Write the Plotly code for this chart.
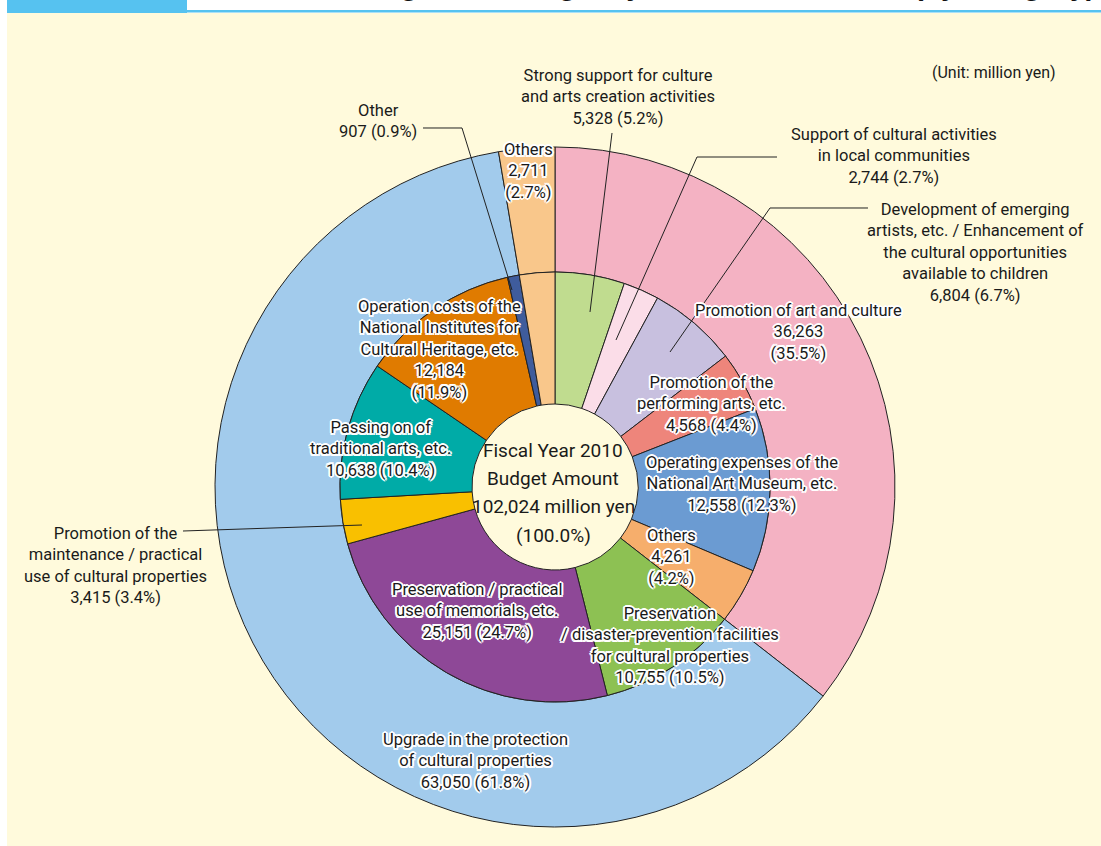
import plotly.graph_objects as go

W, H = 1101, 846

# ---- data ----
outer_labels = ["Promotion of art and culture", "Upgrade in the protection of cultural properties", "Others"]
outer_values = [36263, 63050, 2711]
outer_pcts = ["35.5%", "61.8%", "2.7%"]
outer_colors = ["#F4B2C3", "#A2CBEC", "#F9C78B"]

inner_labels = [
    "Strong support for culture and arts creation activities",
    "Support of cultural activities in local communities",
    "Development of emerging artists, etc. / Enhancement of the cultural opportunities available to children",
    "Promotion of the performing arts, etc.",
    "Operating expenses of the National Art Museum, etc.",
    "Others (art and culture)",
    "Preservation / disaster-prevention facilities for cultural properties",
    "Preservation / practical use of memorials, etc.",
    "Promotion of the maintenance / practical use of cultural properties",
    "Passing on of traditional arts, etc.",
    "Operation costs of the National Institutes for Cultural Heritage, etc.",
    "Other",
    "Others",
]
inner_values = [5328, 2744, 6804, 4568, 12558, 4261, 10755, 25151, 3415, 10638, 12184, 907, 2711]
inner_pcts = ["5.2%", "2.7%", "6.7%", "4.4%", "12.3%", "4.2%", "10.5%", "24.7%", "3.4%",
              "10.4%", "11.9%", "0.9%", "2.7%"]
inner_colors = ["#C0DC8F", "#FBDDE8", "#C8C0DF", "#EE857B", "#6B9BD2", "#F6AE6C",
                "#8DC153", "#8E4897", "#F9C000", "#00ABA7", "#E07B00", "#3F5C9C", "#F9C78B"]

total_value = 102024
total_pct = "100.0%"

# ---- geometry (pixels) ----
CX, CY = 555, 487
R_OUT, R_IN, R_HOLE = 340, 215, 83


def fx(x):
    return x / W


def fy(y):
    return 1 - y / H


def dom(r):
    return dict(x=[fx(CX - r), fx(CX + r)], y=[fy(CY + r), fy(CY - r)])


FONT = "Roboto, Arial, sans-serif"
LINE = dict(color="#222222", width=1)

fig = go.Figure()
fig.add_trace(go.Pie(
    labels=outer_labels, values=outer_values, sort=False, direction="clockwise",
    rotation=0, hole=R_IN / R_OUT, domain=dom(R_OUT), textinfo="none",
    marker=dict(colors=outer_colors, line=LINE), showlegend=False, hoverinfo="label+value",
))
fig.add_trace(go.Pie(
    labels=inner_labels, values=inner_values, sort=False, direction="clockwise",
    rotation=0, hole=R_HOLE / R_IN, domain=dom(R_IN), textinfo="none",
    marker=dict(colors=inner_colors, line=LINE), showlegend=False, hoverinfo="label+value",
))

halo = ", ".join(f"{a}px {b}px 0 #fff" for a, b in
                 [(-1.5, -1.5), (1.5, -1.5), (-1.5, 1.5), (1.5, 1.5), (0, 2), (0, -2), (2, 0), (-2, 0)])


def fmt(v):
    return f"{v:,}"


annotations = []


def label(text, x, y, size=16.5, shadow=False, color="#1a1a1a", xanchor="center", align="center"):
    f = dict(family=FONT, size=size, color=color)
    if shadow:
        f["shadow"] = halo
    annotations.append(dict(text=text, x=fx(x), y=fy(y), xref="paper", yref="paper",
                            xanchor=xanchor, yanchor="middle", align=align,
                            showarrow=False, font=f))


v, p = inner_values, inner_pcts
o, op = outer_values, outer_pcts
# outside labels
label(f"Strong support for culture<br>and arts creation activities<br>{fmt(v[0])} ({p[0]})", 618, 97, 16.5)
label(f"Support of cultural activities<br>in local communities<br>{fmt(v[1])} ({p[1]})", 894, 156, 16.5)
label(f"Development of emerging<br>artists, etc. / Enhancement of<br>the cultural opportunities<br>available to children<br>{fmt(v[2])} ({p[2]})", 975, 252, 16.5)
label(f"Other<br>{fmt(v[11])} ({p[11]})", 378, 121, 16.5)
label(f"Promotion of the<br>maintenance / practical<br>use of cultural properties<br>{fmt(v[8])} ({p[8]})", 115, 565, 16.5)
label("(Unit: million yen)", 1058, 73, 16, xanchor="right")

# inside labels (white halo)
label(f"Promotion of art and culture<br>{fmt(o[0])}<br>({op[0]})", 799, 332, shadow=True)
label(f"Promotion of the<br>performing arts, etc.<br>{fmt(v[3])} ({p[3]})", 711, 404, shadow=True)
label(f"Operating expenses of the<br>National Art Museum, etc.<br>{fmt(v[4])} ({p[4]})", 742, 484, shadow=True)
label(f"Others<br>{fmt(v[5])}<br>({p[5]})", 671, 557, shadow=True)
label(f"Preservation<br>/ disaster-prevention facilities<br>for cultural properties<br>{fmt(v[6])} ({p[6]})", 670, 645, shadow=True)
label(f"Preservation / practical<br>use of memorials, etc.<br>{fmt(v[7])} ({p[7]})", 477, 611, shadow=True)
label(f"Upgrade in the protection<br>of cultural properties<br>{fmt(o[1])} ({op[1]})", 475, 761, shadow=True)
label(f"Passing on of<br>traditional arts, etc.<br>{fmt(v[9])} ({p[9]})", 380, 449, shadow=True)
label(f"Operation costs of the<br>National Institutes for<br>Cultural Heritage, etc.<br>{fmt(v[10])}<br>({p[10]})", 439, 349, shadow=True)
label(f"Others<br>{fmt(o[2])}<br>({op[2]})", 528, 171, shadow=True)

# center text
for txt, yy in [("Fiscal Year 2010", 450), ("Budget Amount", 478),
                (f"{fmt(total_value)} million yen", 506), (f"({total_pct})", 535)]:
    label(txt, 553, yy, 19)

# clipped title at the very top
annotations.append(dict(text="Fiscal 2010 Budget of the Agency for Cultural Affairs (by category)",
                        x=fx(1098), y=fy(3), xref="paper", yref="paper", xanchor="right",
                        yanchor="bottom", showarrow=False,
                        font=dict(family="Liberation Sans, Arial, sans-serif", size=29,
                                  color="#111111", weight="bold")))

# ---- shapes ----
shapes = [
    dict(type="rect", xref="paper", yref="paper", x0=fx(7), x1=fx(W + 5), y0=fy(H + 5), y1=fy(13),
         fillcolor="#FFFADC", line=dict(width=0), layer="below"),
    dict(type="rect", xref="paper", yref="paper", x0=fx(7), x1=fx(187), y0=fy(13), y1=fy(-5),
         fillcolor="#56C2F0", line=dict(width=0), layer="below"),
    dict(type="rect", xref="paper", yref="paper", x0=fx(187), x1=fx(W + 5), y0=fy(12.5), y1=fy(10),
         fillcolor="#56C2F0", line=dict(width=0), layer="below"),
]


def polyline(pts):
    d = "M " + " L ".join(f"{fx(x):.5f},{fy(y):.5f}" for x, y in pts)
    shapes.append(dict(type="path", xref="paper", yref="paper", path=d,
                       line=dict(color="#222222", width=1), layer="above"))


polyline([(612, 133), (590, 312)])
polyline([(777, 157), (697, 157), (616, 340)])
polyline([(868, 208), (770, 208), (670, 352)])
polyline([(423, 128), (462, 128), (512, 290)])
polyline([(183, 531), (362, 525)])

fig.update_layout(
    width=W, height=H, autosize=False,
    margin=dict(l=0, r=0, t=0, b=0),
    paper_bgcolor="#FFFFFF", plot_bgcolor="rgba(0,0,0,0)",
    annotations=annotations, shapes=shapes, showlegend=False,
)

fig.write_html("out.html", config={"displayModeBar": False},
               post_script="document.body.style.margin='0';document.body.style.overflow='hidden';")
